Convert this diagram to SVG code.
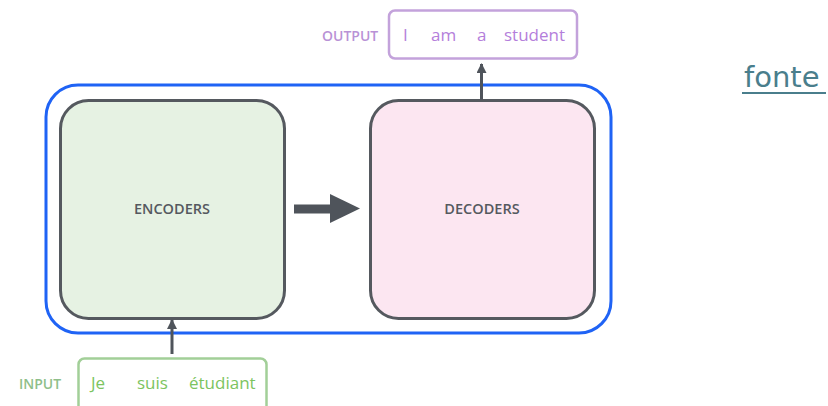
<svg xmlns="http://www.w3.org/2000/svg" width="828" height="406" viewBox="0 0 828 406">
  <style>
    .lbl { font-family: "Open Sans", "Liberation Sans", sans-serif; }
    .box { stroke: #55595f; stroke-width: 3; }
    .cap { font-size: 14.5px; font-weight: 600; fill: #55595f; text-anchor: middle; }
    .out { fill: #b47edb; font-size: 17px; }
    .in { fill: #7cc45f; font-size: 17px; }
    .tag { font-size: 14px; font-weight: 600; }
    .link { stroke: #4f545b; stroke-width: 3; fill: none; }
  </style>
  <defs>
    <marker id="head" viewBox="0 0 10 10" refX="9" refY="5" markerWidth="10" markerHeight="10" markerUnits="userSpaceOnUse" orient="auto">
      <path d="M0,0 L10,5 L0,10 Z" fill="#4f545b"/>
    </marker>
  </defs>

  <rect width="828" height="406" fill="#ffffff"/>

  <!-- outer container -->
  <g id="stack">
    <rect x="46" y="85" width="565" height="248" rx="32" fill="none" stroke="#1f63f5" stroke-width="3"/>
  </g>

  <g id="encoders">
    <rect class="box" x="60.5" y="100.5" width="224" height="218" rx="28" fill="#e6f2e3"/>
    <text class="lbl cap" x="172" y="214">ENCODERS</text>
  </g>

  <g id="decoders">
    <rect class="box" x="370.5" y="100.5" width="224" height="218" rx="28" fill="#fce6f1"/>
    <text class="lbl cap" x="482" y="214">DECODERS</text>
  </g>

  <g id="output">
    <rect x="389" y="10.5" width="188" height="48" rx="6" fill="#ffffff" stroke="#c3a2db" stroke-width="2.5"/>
    <text class="lbl tag" x="322" y="41" fill="#b992d6">OUTPUT</text>
    <text class="lbl out" x="403" y="41">I</text>
    <text class="lbl out" x="431" y="41">am</text>
    <text class="lbl out" x="477" y="41">a</text>
    <text class="lbl out" x="504" y="41">student</text>
  </g>

  <g id="input">
    <rect x="78.5" y="358.5" width="188" height="60" rx="6" fill="#ffffff" stroke="#a2cf98" stroke-width="2.5"/>
    <text class="lbl tag" x="19" y="389" fill="#8fbf8a">INPUT</text>
    <text class="lbl in" x="91" y="389">Je</text>
    <text class="lbl in" x="137" y="389">suis</text>
    <text class="lbl in" x="189" y="389">étudiant</text>
  </g>

  <g id="fonte">
    <text x="744" y="87" font-family="DejaVu Sans, sans-serif" font-size="29" fill="#4a7e8c">fonte</text>
    <line x1="742" y1="93" x2="826" y2="93" stroke="#4a7e8c" stroke-width="1.8"/>
  </g>

  <!-- connectors -->
  <g id="connectors">
    <path d="M294,209 H332" stroke="#4f545b" stroke-width="9" fill="none"/>
    <path d="M330,194 L360,208.5 L330,223 Z" fill="#4f545b"/>
    <line class="link" x1="481.5" y1="100" x2="481.5" y2="64" marker-end="url(#head)"/>
    <line class="link" x1="172" y1="354" x2="172" y2="320" marker-end="url(#head)"/>
  </g>
</svg>
